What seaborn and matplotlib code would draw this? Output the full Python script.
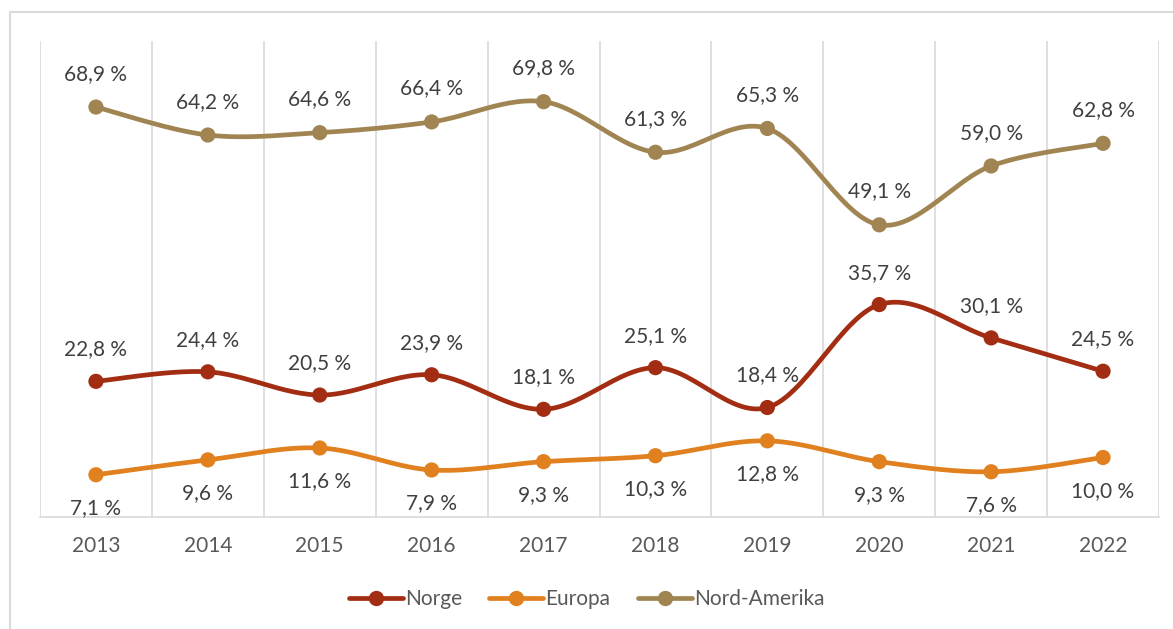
import numpy as np
import pandas as pd
import matplotlib
matplotlib.use("Agg")
import matplotlib.pyplot as plt
import seaborn as sns
from matplotlib.lines import Line2D

years = ["2013", "2014", "2015", "2016", "2017", "2018", "2019", "2020", "2021", "2022"]
norge = [22.8, 24.4, 20.5, 23.9, 18.1, 25.1, 18.4, 35.7, 30.1, 24.5]
europa = [7.1, 9.6, 11.6, 7.9, 9.3, 10.3, 12.8, 9.3, 7.6, 10.0]
nord_amerika = [68.9, 64.2, 64.6, 66.4, 69.8, 61.3, 65.3, 49.1, 59.0, 62.8]

series = ["Norge", "Europa", "Nord-Amerika"]
colors = {"Norge": "#A32D12", "Europa": "#E0801E", "Nord-Amerika": "#A08552"}

sns.set_style("white")
plt.rcParams["font.family"] = ["Lato", "DejaVu Sans"]

df = pd.DataFrame({"year": years, "Norge": norge, "Europa": europa, "Nord-Amerika": nord_amerika})
long = df.melt(id_vars="year", var_name="serie", value_name="andel")
long["x"] = long["year"].map({y: i for i, y in enumerate(years)})


def smooth(xs, ys, n=30):
    # Excel-like smoothed line (Catmull-Rom as cubic Bezier)
    p = np.column_stack([xs, ys]).astype(float)
    p = np.vstack([p[0], p, p[-1]])
    out = []
    for i in range(1, len(p) - 2):
        p0, p1, p2, p3 = p[i - 1], p[i], p[i + 1], p[i + 2]
        c1 = p1 + (p2 - p0) / 6
        c2 = p2 - (p3 - p1) / 6
        t = np.linspace(0, 1, n)[:, None]
        seg = (1 - t) ** 3 * p1 + 3 * (1 - t) ** 2 * t * c1 + 3 * (1 - t) * t ** 2 * c2 + t ** 3 * p2
        out.append(seg if i == 1 else seg[1:])
    out = np.vstack(out)
    return out[:, 0], out[:, 1]


fig = plt.figure(figsize=(11.73, 6.29), dpi=100)
ax = fig.add_axes([40 / 1173, 1 - 517 / 629, 1119 / 1173, 476 / 629])

for s in series:
    sub = long[long.serie == s]
    sx, sy = smooth(sub.x.values, sub.andel.values)
    ax.plot(sx, sy, color=colors[s], lw=3.4, solid_capstyle="round", zorder=3)

sns.scatterplot(data=long, x="x", y="andel", hue="serie", palette=colors, s=120,
                edgecolor="none", legend=False, ax=ax, zorder=4)

offsets = {"Norge": 23, "Europa": -24, "Nord-Amerika": 24}
for s in series:
    sub = long[long.serie == s]
    for x, v in zip(sub.x, sub.andel):
        lab = f"{v:.1f} %".replace(".", ",")
        ax.annotate(lab, (x, v), xytext=(0, offsets[s]), textcoords="offset points",
                    ha="center", va="center", fontsize=15, color="#404040", zorder=5)

ax.set_xlim(-0.5, 9.5)
ax.set_ylim(0, 80)
ax.set_xticks(range(len(years)))
ax.set_xticklabels(years)
ax.set_yticks([])
ax.set_xticks(np.arange(-0.5, 10, 1), minor=True)
ax.grid(which="minor", axis="x", color="#D9D9D9", lw=1.2)
ax.tick_params(axis="x", which="both", length=0, pad=14, labelsize=15, labelcolor="#595959")
ax.set_xlabel("")
ax.set_ylabel("")
for side in ["top", "left", "right"]:
    ax.spines[side].set_visible(False)
ax.spines["bottom"].set_color("#D9D9D9")
ax.spines["bottom"].set_linewidth(1.2)

# chart border (top + left visible)
fig.add_artist(Line2D([10 / 1173, 1], [1 - 12 / 629, 1 - 12 / 629], color="#D9D9D9", lw=1.5))
fig.add_artist(Line2D([10 / 1173, 10 / 1173], [0, 1 - 12 / 629], color="#D9D9D9", lw=1.5))

handles = [Line2D([0], [0], color=colors[s], lw=3.4, marker="o", markersize=10,
                  solid_capstyle="round") for s in series]
fig.legend(handles, series, loc="center", bbox_to_anchor=(0.5, 1 - 599 / 629), ncol=3,
           frameon=False, fontsize=15, labelcolor="#595959", handlelength=2.6,
           handletextpad=0.1, columnspacing=1.3)

fig.savefig("out.png", dpi=100)
